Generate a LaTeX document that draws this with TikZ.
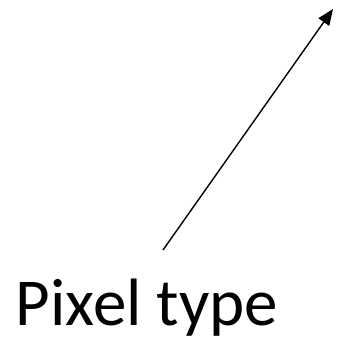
\documentclass[tikz,border=0pt]{standalone}
\usepackage{fontspec}
\setmainfont{Carlito}
\usetikzlibrary{arrows.meta}
\tikzset{
  caption/.style={inner sep=0pt, font=\fontsize{67}{74}\selectfont},
  pointer/.style={draw=black, line width=1.4pt, -{Triangle[length=16pt,width=13pt]}},
}
\begin{document}
\begin{tikzpicture}[x=1pt,y=-1pt]
  \useasboundingbox (0,0) rectangle (337,338);
  \node[caption, anchor=base] (label) at (147,325) {Pixel type};
  \coordinate (tail) at (163,250);
  \coordinate (tip) at (333,9);
  \draw[pointer] (tail) -- (tip);
\end{tikzpicture}
\end{document}
